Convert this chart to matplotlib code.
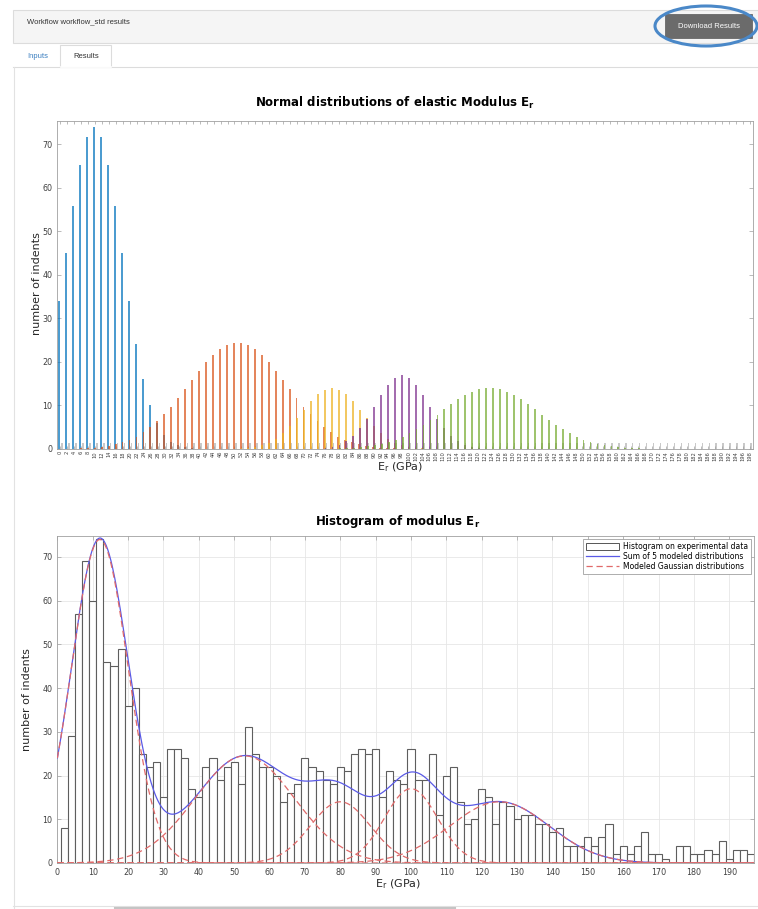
import numpy as np
import matplotlib.pyplot as plt
from matplotlib.patches import Rectangle, Ellipse, Patch
from matplotlib.lines import Line2D

W, H = 758, 909

# the five modelled gaussians: mean (GPa), std (GPa), peak height (indents)
g_mean = [12, 53, 80, 100, 125]
g_std = [8, 14, 8.5, 7.5, 14]
g_peak = [74, 24.5, 14, 17, 14]
g_colors = ['#0072BD', '#D95319', '#EDB120', '#7E2F8E', '#77AC30']

# top chart: 100 categories labelled 0..198, sampled at 2..200 GPa
top_labels = np.arange(0, 199, 2)
top_sample = np.arange(2, 201, 2)
top_grey = [1.3] * 100

# experimental histogram, 2 GPa bins starting at 1 GPa
bin_start = 1
bin_width = 2
counts = [8, 29, 57, 69, 60, 74, 46, 45, 49, 36,
          40, 25, 22, 23, 15, 26, 26, 24, 17, 15,
          22, 24, 19, 22, 23, 18, 31, 25, 22, 22,
          20, 14, 16, 18,
          24, 22, 21, 19, 18, 22, 21, 25, 26, 25,
          26, 15, 21, 19, 18, 26, 19, 19, 25, 11,
          20, 22, 14, 9, 10, 17, 15, 9, 14, 13, 10,
          11, 11, 9, 9, 7, 8, 4, 4, 4, 6,
          4, 6, 9, 2, 4, 2, 4, 7, 2, 2,
          1, 0, 4, 4, 2, 2, 3, 2, 5, 1, 3, 3, 2]


def gauss(x, m, s, a):
    return a * np.exp(-(x - m) ** 2 / (2.0 * s ** 2))


fig = plt.figure(figsize=(W / 100, H / 100), dpi=100)
fig.patch.set_facecolor('white')


def fx(x):
    return x / W


def fy(y):
    return 1 - y / H


def box(x0, y0, x1, y1, **kw):
    fig.add_artist(Rectangle((fx(x0), fy(y1)), (x1 - x0) / W, (y1 - y0) / H,
                             transform=fig.transFigure, **kw))


def line(xs, ys, **kw):
    fig.add_artist(Line2D([fx(x) for x in xs], [fy(y) for y in ys],
                          transform=fig.transFigure, **kw))


# ---- page chrome ----
box(13, 10, 760, 43, facecolor='#f5f5f5', edgecolor='#dcdcdc', lw=0.8)
fig.text(fx(27), fy(22), 'Workflow workflow_std results', fontsize=5.5,
         family='Liberation Sans', color='#333333', va='center')
box(665, 14, 752, 38, facecolor='#6b6b6b', edgecolor='#5a5a5a', lw=0.5)
fig.text(fx(708.5), fy(26), 'Download Results', fontsize=5.5, family='Liberation Sans',
         color='white', ha='center', va='center')
fig.add_artist(Ellipse((fx(706), fy(26)), 102 / W, 40 / H, transform=fig.transFigure,
                       fill=False, edgecolor='#4a88c8', lw=2.2))
line([13, 760], [67, 67], color='#dcdcdc', lw=0.8)
box(60, 45, 111, 67, facecolor='white', edgecolor='#dcdcdc', lw=0.8)
line([60.5, 110.5], [67, 67], color='white', lw=1.2)
fig.text(fx(38), fy(57), 'Inputs', fontsize=5.5, family='Liberation Sans',
         color='#3a7fc0', ha='center', va='center')
fig.text(fx(86), fy(57), 'Results', fontsize=5.5, family='Liberation Sans',
         color='#333333', ha='center', va='center')
line([13.5, 13.5], [67, 909], color='#e2e2e2', lw=0.8)
line([13, 760], [906, 906], color='#e2e2e2', lw=0.8)
line([115, 455], [907.5, 907.5], color='#c4c4c4', lw=1.5)


def matlab_style(ax):
    for s in ax.spines.values():
        s.set_color('#a0a0a0')
        s.set_linewidth(0.6)
    ax.tick_params(direction='in', top=True, right=True, colors='#a0a0a0',
                   labelcolor='#404040', width=0.5, length=3)


# ---- top chart ----
ax1 = fig.add_axes([fx(57), fy(449), 696 / W, 328 / H])
idx = np.arange(len(top_labels))
ax1.bar(idx + 0.22, top_grey, width=0.22, color='#c9c9c9', zorder=1)
offsets = [-0.16, -0.08, 0.0, 0.08, 0.16]
for m, s, a, c, off in zip(g_mean, g_std, g_peak, g_colors, offsets):
    ax1.bar(idx + off, gauss(top_sample, m, s, a), width=0.26, color=c, alpha=0.7, zorder=2)
ax1.set_xlim(-0.5, 99.5)
ax1.set_ylim(0, 75.3)
ax1.set_xticks(idx)
ax1.set_xticklabels([str(v) for v in top_labels], rotation=90, fontsize=3.7)
ax1.set_yticks(np.arange(0, 71, 10))
matlab_style(ax1)
ax1.tick_params(axis='y', labelsize=5.8)
ax1.tick_params(axis='x', length=2.5, pad=1.5)

fig.text(fx(395), fy(103), r'Normal distributions of elastic Modulus $\mathbf{E_r}$',
         fontsize=8.5, fontweight='bold', ha='center', va='center')
fig.text(fx(400), fy(467), r'E$_\mathrm{r}$ (GPa)', fontsize=8, ha='center', va='center',
         color='#262626')
fig.text(fx(37), fy(284), 'number of indents', fontsize=8, rotation=90,
         ha='center', va='center', color='#262626')

# ---- bottom chart ----
ax2 = fig.add_axes([fx(57.4), fy(863), 696.6 / W, 327 / H])
edges = bin_start + bin_width * np.arange(len(counts))
ax2.bar(edges, counts, width=bin_width, align='edge', facecolor='white',
        edgecolor='#5e5e5e', lw=0.8, zorder=2)
xf = np.linspace(0, 197, 900)
total = np.zeros_like(xf)
for m, s, a in zip(g_mean, g_std, g_peak):
    y = gauss(xf, m, s, a)
    total += y
    ax2.plot(xf, y, color='#e06a6a', lw=0.9, dashes=(5, 3), zorder=4)
ax2.plot(xf, total, color='#5a5ae6', lw=0.9, zorder=3)
ax2.set_xlim(0, 197)
ax2.set_ylim(0, 74.8)
ax2.set_xticks(np.arange(0, 191, 10))
ax2.set_yticks(np.arange(0, 71, 10))
ax2.set_axisbelow(True)
ax2.grid(True, color='#e6e6e6', lw=0.6)
matlab_style(ax2)
ax2.tick_params(labelsize=5.8)

handles = [Patch(facecolor='white', edgecolor='#555555', lw=0.7),
           Line2D([], [], color='#5a5ae6', lw=0.9),
           Line2D([], [], color='#e06a6a', lw=0.9, dashes=(5, 3))]
labels = ['Histogram on experimental data', 'Sum of 5 modeled distributions',
          'Modeled Gaussian distributions']
leg = ax2.legend(handles, labels, loc='upper right', fontsize=5.5, frameon=True,
                 fancybox=False, framealpha=1, edgecolor='#a0a0a0',
                 handlelength=4.4, handleheight=1.0, borderpad=0.35,
                 labelspacing=0.15, handletextpad=0.5, borderaxespad=0.4)
leg.get_frame().set_linewidth(0.6)

fig.text(fx(398), fy(521), r'Histogram of modulus $\mathbf{E_r}$', fontsize=8.5,
         fontweight='bold', ha='center', va='center')
fig.text(fx(398), fy(884), r'E$_\mathrm{r}$ (GPa)', fontsize=8, ha='center', va='center',
         color='#262626')
fig.text(fx(27), fy(700), 'number of indents', fontsize=8, rotation=90,
         ha='center', va='center', color='#262626')

fig.savefig('out.png', dpi=100)
